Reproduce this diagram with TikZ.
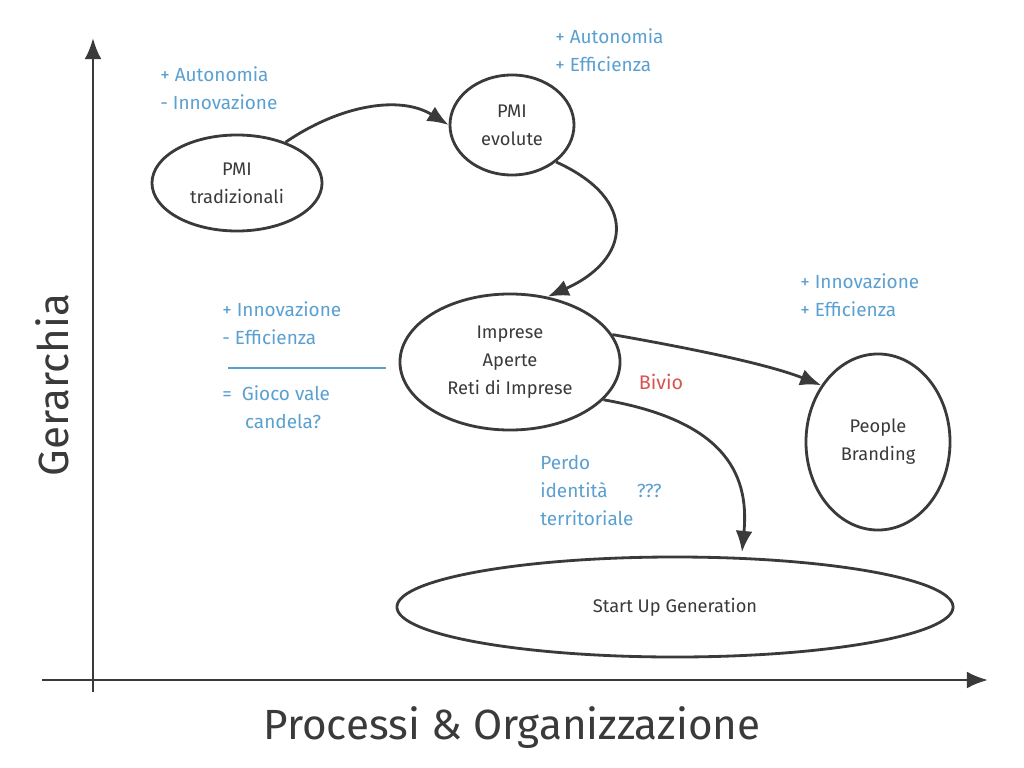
\documentclass[tikz,border=0pt]{standalone}
\usepackage{fontspec}
\setmainfont{Fira Sans}
\usetikzlibrary{arrows.meta,shapes.geometric}
\definecolor{ink}{HTML}{3A3A3A}
\definecolor{lbl}{HTML}{5AA0D0}
\definecolor{bivio}{HTML}{D9534F}
\begin{document}
\begin{tikzpicture}[x=0.025cm,y=-0.025cm,
  oval/.style={draw=ink,line width=2pt,ellipse,inner sep=0pt,align=center,text=ink,font=\fontsize{13}{20}\selectfont},
  conn/.style={draw=ink,line width=2pt,-{Latex[length=15pt,width=12pt]}},
  note/.style={text=lbl,align=left,font=\fontsize{13.5}{20}\selectfont,anchor=north west,inner sep=0pt}]
\useasboundingbox (0,0) rectangle (1024,768);
\fill[white] (0,0) rectangle (1024,768);
\coordinate (yb) at (93,692); \coordinate (yt) at (93,38);
\coordinate (xl) at (42,680); \coordinate (xr) at (988,680);
\draw[conn] (yb) -- (yt);
\draw[conn] (xl) -- (xr);
\node[rotate=90,text=ink,font=\fontsize{30}{30}\selectfont] (gy) at (52,385) {Gerarchia};
\node[text=ink,font=\fontsize{30}{30}\selectfont] (gx) at (512,728) {Processi \& Organizzazione};
\node[oval,minimum width=4.25cm,minimum height=2.4cm] (trad) at (237,183) {PMI\\tradizionali};
\node[oval,minimum width=3.1cm,minimum height=2.5cm] (evo) at (512,125) {PMI\\evolute};
\node[oval,minimum width=5.5cm,minimum height=3.4cm] (imp) at (510,362) {Imprese\\Aperte\\Reti di Imprese};
\node[oval,minimum width=3.6cm,minimum height=4.4cm] (peo) at (878,442) {People\\Branding};
\node[oval,minimum width=13.9cm,minimum height=2.5cm] (start) at (675,607) {Start Up Generation};
\draw[conn] (trad.40) .. controls (340,105) and (400,95) .. (evo.west);
\draw[conn] (evo.-40) .. controls (640,200) and (630,260) .. (imp.60);
\draw[conn] (imp.15) .. controls (700,350) and (770,365) .. (peo.135);
\draw[conn] (imp.-22) .. controls (720,420) and (750,470) .. (742,552);
\node[note] (n1) at (160,66) {+ Autonomia\\- Innovazione};
\node[note] (n2) at (555,28) {+ Autonomia\\+ Efficienza};
\node[note] (n3) at (222,301) {+ Innovazione\\- Efficienza};
\coordinate (la) at (228,368); \coordinate (lb) at (386,368);
\draw[lbl,line width=1.2pt] (la) -- (lb);
\node[note] (n4) at (222,385) {= \ Gioco vale\\\hspace*{1.2em}candela?};
\node[note] (n5) at (800,273) {+ Innovazione\\+ Efficienza};
\node[note] (n6) at (540,455) {Perdo\\identità \quad\ ???\\territoriale};
\node[text=bivio,font=\fontsize{14}{16}\selectfont] (bv) at (661,382) {Bivio};
\end{tikzpicture}
\end{document}
